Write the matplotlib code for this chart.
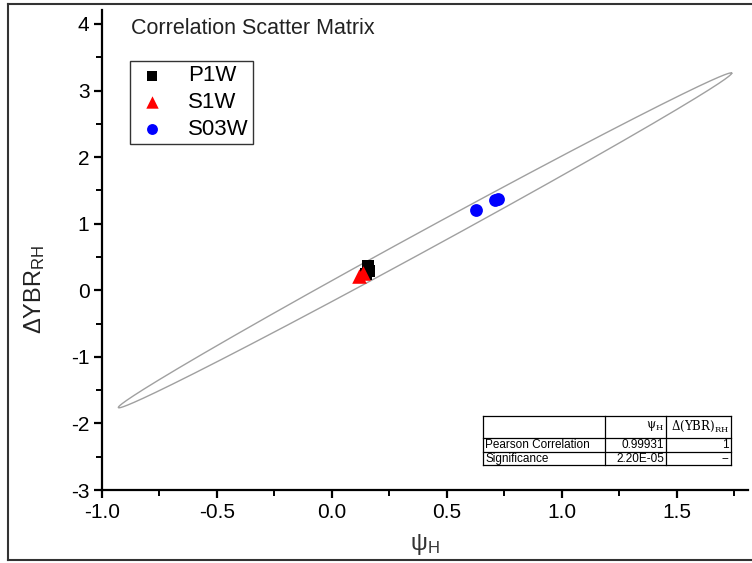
import numpy as np
import matplotlib
matplotlib.use("Agg")
import matplotlib.pyplot as plt
from matplotlib.lines import Line2D

plt.rcParams['font.family'] = ['Liberation Sans', 'DejaVu Sans']
plt.rcParams['mathtext.fontset'] = 'custom'
plt.rcParams['mathtext.rm'] = 'Liberation Sans'
plt.rcParams['mathtext.it'] = 'Liberation Sans:italic'
plt.rcParams['axes.unicode_minus'] = False

# ---- data ----
p1w_x = [0.155, 0.160, 0.150]
p1w_y = [0.37, 0.29, 0.25]
s1w_x = [0.120, 0.135]
s1w_y = [0.22, 0.26]
s03w_x = [0.625, 0.710, 0.722]
s03w_y = [1.21, 1.35, 1.37]

ell_center = (0.405, 0.75)
ell_major = (1.334, 2.51)     # semi-major vector (data units)
ell_minor = (0.0, 0.165)      # semi-minor vector (data units)

table_cols = ["", "ψ", "Δ(YBR)"]
table_subs = ["", "H", "RH"]
table_rows = [["Pearson Correlation", "0.99931", "1"],
              ["Significance", "2.20E-05", "--"]]

xticks = [-1.0, -0.5, 0.0, 0.5, 1.0, 1.5]
yticks = [-3, -2, -1, 0, 1, 2, 3, 4]

# ---- figure ----
W, H = 752, 563
fig = plt.figure(figsize=(W / 100, H / 100), dpi=100)
ax = fig.add_axes([102 / W, 1 - 490 / H, 646 / W, 480 / H])

t = np.linspace(0, 2 * np.pi, 600)
ex = ell_center[0] + ell_major[0] * np.cos(t) + ell_minor[0] * np.sin(t)
ey = ell_center[1] + ell_major[1] * np.cos(t) + ell_minor[1] * np.sin(t)
ax.plot(ex, ey, color='#a0a0a0', lw=1.0, zorder=1)

ax.scatter(p1w_x, p1w_y, marker='s', s=80, color='black', label='P1W', zorder=3, linewidths=0)
ax.scatter(s1w_x, s1w_y, marker='^', s=110, color='#ff0000', label='S1W', zorder=4, linewidths=0)
ax.scatter(s03w_x, s03w_y, marker='o', s=85, color='#0000ff', label='S03W', zorder=3, linewidths=0)

ax.set_xlim(-1.0, 1.81)
ax.set_ylim(-3.0, 4.21)
ax.set_xticks(xticks)
ax.set_xticklabels([f"{v:.1f}" for v in xticks])
ax.set_yticks(yticks)
ax.set_xticks(np.arange(-0.75, 1.8, 0.5), minor=True)
ax.set_yticks(np.arange(-2.5, 4.0, 1.0), minor=True)
for s in ['top', 'right']:
    ax.spines[s].set_visible(False)
for s in ['left', 'bottom']:
    ax.spines[s].set_linewidth(1.6)
ax.tick_params(which='major', direction='out', length=6, width=1.6, labelsize=15, pad=3)
ax.tick_params(which='minor', direction='out', length=4, width=1.4)

ax.set_xlabel(r"$\mathrm{ψ}_\mathrm{H}$", fontsize=17, color='#333333')
ax.set_ylabel(r"$\mathrm{ΔYBR}_\mathrm{RH}$", fontsize=17, color='#222222')
ax.xaxis.set_label_coords(0.5, -0.088)
ax.yaxis.set_label_coords(-0.085, 0.417)

fig.text(131 / W, 1 - 28 / H, "Correlation Scatter Matrix", fontsize=15.5,
         ha='left', va='center', color='#222222')

leg = ax.legend(loc='upper left', bbox_to_anchor=((130 - 102) / 646, 1 - (61 - 10) / 480),
                fontsize=16, frameon=True, fancybox=False, borderpad=0.2,
                labelspacing=0.25, handletextpad=0.8, handlelength=1.6, borderaxespad=0,
                markerscale=0.85)
leg.get_frame().set_edgecolor('black')
leg.get_frame().set_linewidth(1.0)

# ---- table ----
tx = [483, 605, 666, 731]
ty = [416, 438, 452, 465]
fx = lambda v: v / W
fy = lambda v: 1 - v / H
tr = fig.transFigure
for yy in ty:
    fig.add_artist(Line2D([fx(tx[0]), fx(tx[-1])], [fy(yy), fy(yy)], transform=tr, color='black', lw=0.9))
for xx in tx:
    fig.add_artist(Line2D([fx(xx), fx(xx)], [fy(ty[0]), fy(ty[-1])], transform=tr, color='black', lw=0.9))
tfs = 8.5
for j in (1, 2):
    lbl = r"$\mathrm{%s}_\mathrm{%s}$" % (table_cols[j], table_subs[j])
    fig.text(fx(tx[j + 1] - 2), fy((ty[0] + ty[1]) / 2 - 1), lbl, fontsize=tfs, ha='right',
             va='center', math_fontfamily='dejavuserif')
for i, row in enumerate(table_rows):
    yc = fy((ty[i + 1] + ty[i + 2]) / 2 + 0.5)
    fig.text(fx(tx[0] + 2), yc, row[0], fontsize=tfs, ha='left', va='center')
    fig.text(fx(tx[2] - 2), yc, row[1], fontsize=tfs, ha='right', va='center')
    fig.text(fx(tx[3] - 2), yc, row[2], fontsize=tfs, ha='right', va='center')

# ---- outer border ----
bc = '#333333'
fig.add_artist(Line2D([fx(8), fx(8)], [fy(4), fy(560)], transform=tr, color=bc, lw=1.5))
fig.add_artist(Line2D([fx(8), 1], [fy(4), fy(4)], transform=tr, color=bc, lw=1.5))
fig.add_artist(Line2D([fx(8), 1], [fy(560), fy(560)], transform=tr, color=bc, lw=1.5))

fig.savefig("out.png", dpi=100)
